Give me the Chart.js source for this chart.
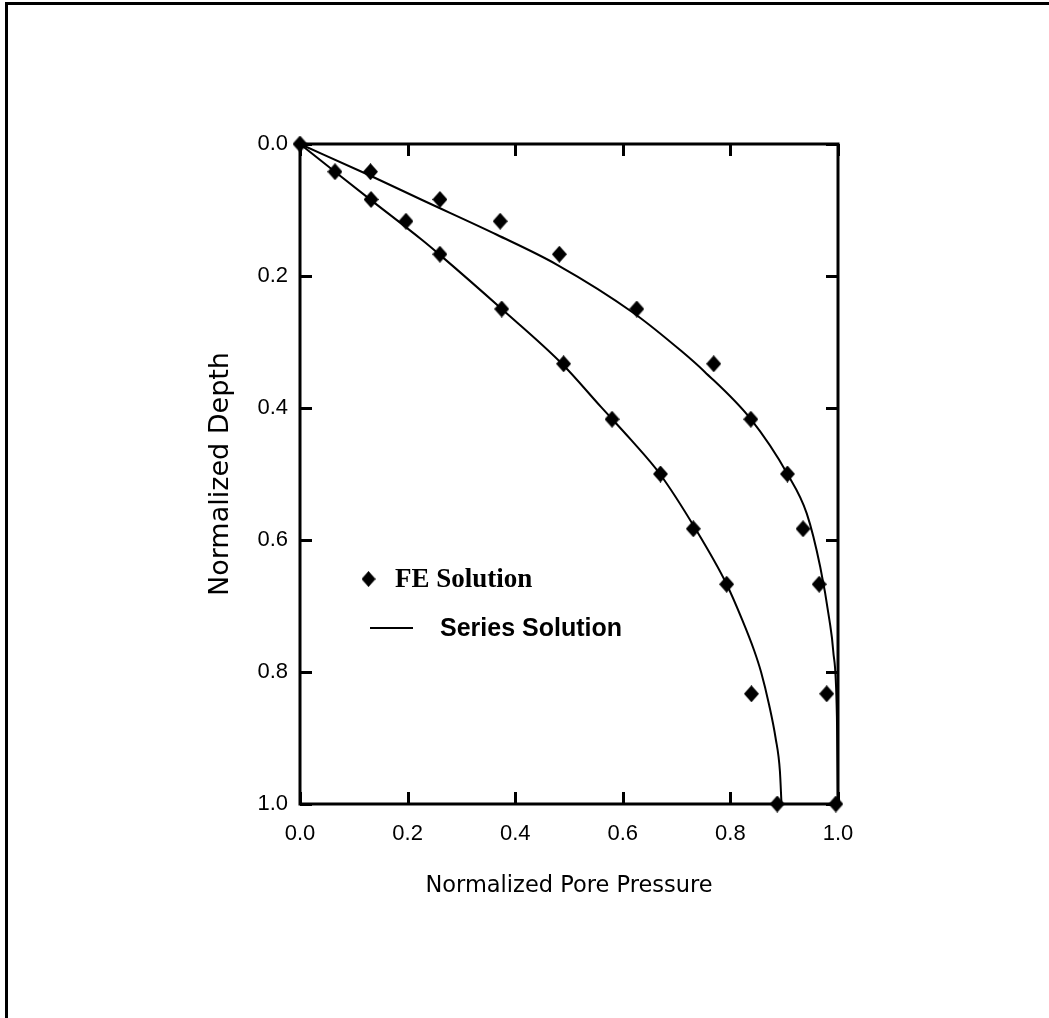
<!DOCTYPE html>
<html>
<head>
<meta charset="utf-8">
<script src="https://cdn.jsdelivr.net/npm/chart.js@4.4.1/dist/chart.umd.min.js"></script>
<style>
  html, body { margin: 0; padding: 0; background: #fff; }
  #wrap { position: relative; width: 1049px; height: 1018px; }
  canvas { display: block; }
</style>
</head>
<body>
<div id="wrap"><canvas id="c" width="1049" height="1018"></canvas></div>
<script>
// ---- data ----
const xTickValues = [0, 0.2, 0.4, 0.6, 0.8, 1.0];
const xTickLabels = ['0.0', '0.2', '0.4', '0.6', '0.8', '1.0'];
const yTickValues = [0, 0.2, 0.4, 0.6, 0.8, 1.0];
const yTickLabels = ['0.0', '0.2', '0.4', '0.6', '0.8', '1.0'];

const xTitle = 'Normalized Pore Pressure';
const yTitle = 'Normalized Depth';
const feLabel = 'FE Solution';
const seriesLabel = 'Series Solution';

// FE solution, curve 1 (inner)
const feInnerPore  = [0, 0.065, 0.132, 0.197, 0.26, 0.375, 0.49, 0.58, 0.67, 0.731, 0.793, 0.839, 0.887];
const feInnerDepth = [0, 0.042, 0.084, 0.117, 0.167, 0.25, 0.333, 0.417, 0.5, 0.583, 0.667, 0.833, 1.0];
// FE solution, curve 2 (outer)
const feOuterPore  = [0.131, 0.26, 0.372, 0.482, 0.626, 0.769, 0.838, 0.906, 0.935, 0.965, 0.979, 0.996];
const feOuterDepth = [0.042, 0.084, 0.117, 0.167, 0.25, 0.333, 0.417, 0.5, 0.583, 0.667, 0.833, 1.0];

// Series solution, curve 1 (inner)
const seriesInnerPore  = [0, 0.065, 0.132, 0.227, 0.26, 0.375, 0.487, 0.559, 0.615, 0.669, 0.735, 0.793, 0.822, 0.844, 0.857, 0.872, 0.884, 0.892, 0.895];
const seriesInnerDepth = [0, 0.042, 0.085, 0.1455, 0.168, 0.25, 0.333, 0.398, 0.448, 0.5, 0.583, 0.667, 0.721, 0.767, 0.8, 0.85, 0.9, 0.95, 1.0];
// Series solution, curve 2 (outer)
const seriesOuterPore  = [0, 0.128, 0.226, 0.366, 0.478, 0.62, 0.71, 0.752, 0.838, 0.906, 0.942, 0.967, 0.984, 0.991, 0.998, 1.0];
const seriesOuterDepth = [0, 0.047, 0.0845, 0.1375, 0.183, 0.256, 0.3145, 0.345, 0.417, 0.5, 0.56, 0.641, 0.721, 0.767, 0.868, 1.0];

// ---- helpers ----
function pts(xs, ys) { return xs.map((x, i) => ({ x: x, y: ys[i] })); }
function diamondCanvas(w, h) {
  const c = document.createElement('canvas');
  c.width = w; c.height = h;
  const g = c.getContext('2d');
  g.fillStyle = '#000';
  g.beginPath();
  g.moveTo(w / 2, 0); g.lineTo(w, h / 2); g.lineTo(w / 2, h); g.lineTo(0, h / 2);
  g.closePath(); g.fill();
  return c;
}
const diamond = diamondCanvas(15, 17);

const framePlugin = {
  id: 'framePlugin',
  beforeDatasetsDraw(chart) {
    const ctx = chart.ctx, a = chart.chartArea;
    const xs = chart.scales.x, ys = chart.scales.y;
    ctx.save();
    ctx.fillStyle = '#000';
    ctx.fillRect(5, 2, 1044, 3);
    ctx.fillRect(5, 2, 3, 1016);
    ctx.strokeStyle = '#000';
    ctx.lineWidth = 3;
    ctx.strokeRect(a.left, a.top, a.right - a.left, a.bottom - a.top);
    const tl = 12;
    ctx.beginPath();
    xTickValues.forEach(v => {
      const px = Math.round(xs.getPixelForValue(v)) + 0.5;
      ctx.moveTo(px, a.bottom); ctx.lineTo(px, a.bottom - tl);
      ctx.moveTo(px, a.top); ctx.lineTo(px, a.top + tl);
    });
    yTickValues.forEach(v => {
      const py = Math.round(ys.getPixelForValue(v)) + 0.5;
      ctx.moveTo(a.left, py); ctx.lineTo(a.left + tl, py);
      ctx.moveTo(a.right, py); ctx.lineTo(a.right - tl, py);
    });
    ctx.stroke();
    ctx.restore();
  },
  afterDraw(chart) {
    const ctx = chart.ctx;
    ctx.save();
    ctx.drawImage(diamond, 368.5 - 7, 579 - 8, 14, 16);
    ctx.fillStyle = '#000';
    ctx.textBaseline = 'middle';
    ctx.textAlign = 'left';
    ctx.font = 'bold 27px "Liberation Serif"';
    ctx.fillText(chart.data.datasets[2].label, 395, 580);
    ctx.strokeStyle = '#000';
    ctx.lineWidth = 2;
    ctx.beginPath();
    ctx.moveTo(370, 628); ctx.lineTo(413, 628);
    ctx.stroke();
    ctx.font = 'bold 25px "Liberation Sans"';
    ctx.fillText(chart.data.datasets[0].label, 440, 629);
    ctx.restore();
  }
};

const lineStyle = { showLine: true, pointRadius: 0, borderColor: '#000', borderWidth: 2, cubicInterpolationMode: 'monotone', fill: false, clip: false };
const ptStyle = { showLine: false, pointStyle: diamond, pointRadius: 8, backgroundColor: '#000', borderColor: '#000', clip: false };

new Chart(document.getElementById('c'), {
  type: 'scatter',
  data: {
    datasets: [
      Object.assign({ label: seriesLabel, data: pts(seriesInnerPore, seriesInnerDepth) }, lineStyle),
      Object.assign({ label: seriesLabel, data: pts(seriesOuterPore, seriesOuterDepth) }, lineStyle),
      Object.assign({ label: feLabel, data: pts(feInnerPore, feInnerDepth) }, ptStyle),
      Object.assign({ label: feLabel, data: pts(feOuterPore, feOuterDepth) }, ptStyle)
    ]
  },
  options: {
    responsive: false,
    animation: false,
    devicePixelRatio: 1,
    layout: { padding: { top: 144, right: 211, left: 0, bottom: 0 } },
    plugins: { legend: { display: false }, tooltip: { enabled: false } },
    scales: {
      x: {
        type: 'linear', position: 'bottom', min: 0, max: 1,
        afterFit: s => { s.height = 214; },
        afterBuildTicks: s => { s.ticks = xTickValues.map(v => ({ value: v })); },
        grid: { display: false, drawTicks: false },
        border: { display: false },
        ticks: {
          padding: 17, color: '#000',
          font: { family: '"Liberation Sans", Arial, sans-serif', size: 22 },
          callback: (v, i) => xTickLabels[i]
        },
        title: {
          display: true, text: xTitle, color: '#000',
          font: { family: '"DejaVu Sans", sans-serif', size: 22.5 },
          padding: { top: 0, bottom: 118 }
        }
      },
      y: {
        type: 'linear', position: 'left', min: 0, max: 1, reverse: true,
        afterFit: s => { s.width = 300; },
        afterBuildTicks: s => { s.ticks = yTickValues.map(v => ({ value: v })); },
        grid: { display: false, drawTicks: false },
        border: { display: false },
        ticks: {
          padding: 12, color: '#000',
          font: { family: '"Liberation Sans", Arial, sans-serif', size: 22 },
          callback: (v, i) => yTickLabels[i]
        },
        title: {
          display: true, text: yTitle, color: '#000',
          font: { family: '"DejaVu Sans", sans-serif', size: 27 },
          padding: { top: 205, bottom: 0 }
        }
      }
    }
  },
  plugins: [framePlugin]
});
</script>
</body>
</html>
